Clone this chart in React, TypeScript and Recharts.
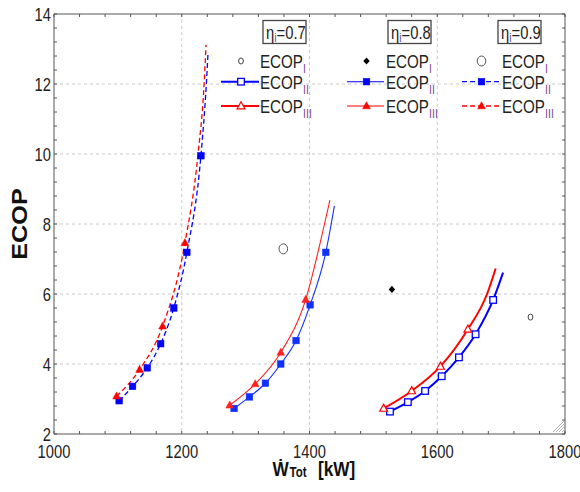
import { ComposedChart, Line, Scatter, XAxis, YAxis, CartesianGrid, Label } from 'recharts'

const FONT = "'Liberation Sans', Arial, sans-serif"
const NARROW = 0.82 // the reference uses a narrow face: squeeze Liberation Sans horizontally
const SUB = '#7d4a8c'

const xTicks = [1000, 1040, 1080, 1120, 1160, 1200, 1240, 1280, 1320, 1360, 1400, 1440, 1480, 1520, 1560, 1600, 1640, 1680, 1720, 1760, 1800]
const yTicks = [2, 2.4, 2.8, 3.2, 3.6, 4, 4.4, 4.8, 5.2, 5.6, 6, 6.4, 6.8, 7.2, 7.6, 8, 8.4, 8.8, 9.2, 9.6, 10, 10.4, 10.8, 11.2, 11.6, 12, 12.4, 12.8, 13.2, 13.6, 14]
const xLabels = [1000, 1200, 1400, 1600, 1800]
const yLabels = [2, 4, 6, 8, 10, 12, 14]
const xGrid = [1200, 1400, 1600]
const yGrid = [4, 6, 8, 10, 12]

const e09IIx = [1102, 1123, 1146, 1167, 1187.5, 1208, 1230, 1238.5, 1241]
const e09IIy = [2.95, 3.36, 3.89, 4.58, 5.6, 7.19, 9.95, 12.0, 12.84]
const e09IIn = 7
const e09IIIx = [1098, 1134, 1170, 1205, 1225.5, 1235, 1238]
const e09IIIy = [3.08, 3.84, 5.08, 7.46, 10.0, 12.0, 13.12]
const e09IIIn = 4

// eta_i = 0.8 : thin solid, filled markers
const e08IIx = [1282, 1306, 1331, 1355, 1379, 1401, 1425.5, 1434, 1439]
const e08IIy = [2.73, 3.06, 3.45, 4.0, 4.67, 5.69, 7.19, 8.0, 8.52]
const e08IIn = 7
const e08IIIx = [1275, 1315, 1355, 1394, 1423.5, 1432]
const e08IIIy = [2.82, 3.43, 4.33, 5.84, 8.0, 8.68]
const e08IIIn = 4

// eta_i = 0.7 : thick solid, open markers
const e07IIx = [1526, 1554, 1581, 1607, 1634, 1660, 1687.5, 1703]
const e07IIy = [2.64, 2.91, 3.23, 3.65, 4.19, 4.85, 5.83, 6.61]
const e07IIn = 7
const e07IIIx = [1516, 1560, 1605, 1648, 1678, 1691.5]
const e07IIIy = [2.73, 3.23, 3.93, 4.99, 6.0, 6.73]
const e07IIIn = 4

// ECOP_I single points (eta 0.7, 0.8, 0.9)
const ecopIx = [1746, 1529, 1359]
const ecopIy = [5.34, 6.13, 7.29]

const toPts = (xs: number[], ys: number[]) => xs.map((x, i) => ({ x, y: ys[i] }))

type Mark = 'sq' | 'tri'

function marker(kind: Mark, cx: number, cy: number, color: string, open: boolean, key: string) {
  const fill = open ? '#fff' : color
  if (kind === 'sq') {
    return <rect key={key} x={cx - 3.3} y={cy - 3.3} width={6.6} height={6.6} fill={fill} stroke={color} strokeWidth={open ? 1.3 : 0.5} />
  }
  return (
    <path
      key={key}
      d={`M${cx},${cy - 4.3} L${cx + 3.9},${cy + 2.8} L${cx - 3.9},${cy + 2.8} Z`}
      fill={fill}
      stroke={color}
      strokeWidth={open ? 1.2 : 0.5}
    />
  )
}

const makeDot = (kind: Mark, n: number, color: string, open: boolean, id: string) => (p: any) => {
  const k = `${id}-${p.index}`
  if (p.index >= n || p.cx == null) return <g key={k} />
  return marker(kind, p.cx, p.cy, color, open, k)
}

const series = [
  { id: '09II', x: e09IIx, y: e09IIy, n: e09IIn, color: '#0000ff', kind: 'sq' as Mark, open: false, w: 1.3, dash: '5 3' },
  { id: '09III', x: e09IIIx, y: e09IIIy, n: e09IIIn, color: '#ff0000', kind: 'tri' as Mark, open: false, w: 1.3, dash: '5 3' },
  { id: '08II', x: e08IIx, y: e08IIy, n: e08IIn, color: '#1030ff', kind: 'sq' as Mark, open: false, w: 1.1, dash: undefined },
  { id: '08III', x: e08IIIx, y: e08IIIy, n: e08IIIn, color: '#ff2020', kind: 'tri' as Mark, open: false, w: 1.1, dash: undefined },
  { id: '07II', x: e07IIx, y: e07IIy, n: e07IIn, color: '#0000ff', kind: 'sq' as Mark, open: true, w: 2, dash: undefined },
  { id: '07III', x: e07IIIx, y: e07IIIy, n: e07IIIn, color: '#ff0000', kind: 'tri' as Mark, open: true, w: 2, dash: undefined },
]

const ecopIShape = [
  (p: any) => <ellipse cx={p.cx} cy={p.cy} rx={2.4} ry={3} fill="#fff" stroke="#444" strokeWidth={1} />,
  (p: any) => <path d={`M${p.cx},${p.cy - 3.6} L${p.cx + 3.2},${p.cy} L${p.cx},${p.cy + 3.6} L${p.cx - 3.2},${p.cy} Z`} fill="#000" />,
  (p: any) => <ellipse cx={p.cx} cy={p.cy} rx={4.3} ry={5} fill="#fff" stroke="#555" strokeWidth={1} />,
]

// text scaled horizontally around its own anchor
function NText({ x, y, anchor, size, bold, fill, rotate, sx, children }: any) {
  const rot = rotate ? ` rotate(${rotate})` : ''
  return (
    <text
      transform={`translate(${x} ${y})${rot} scale(${sx ?? NARROW} 1)`}
      textAnchor={anchor || 'start'}
      fontFamily={FONT}
      fontSize={size}
      fontWeight={bold ? 'bold' : 'normal'}
      fill={fill || '#222'}
    >
      {children}
    </text>
  )
}

const XTick = (p: any) => {
  const v = p.payload.value
  if (!xLabels.includes(v)) return <g />
  return <NText x={p.x} y={p.y + 13} anchor="middle" size={18}>{String(v)}</NText>
}

const YTick = (p: any) => {
  const v = p.payload.value
  if (!yLabels.includes(v)) return <g />
  return <NText x={p.x} y={p.y + 6.5} anchor="end" size={18}>{String(v)}</NText>
}

const XTitle = (props: any) => {
  const vb = props.viewBox
  const cx = vb.x + vb.width / 2
  return (
    <NText x={cx - 37} y={476} size={21} bold fill="#111">
      Ẇ
      <tspan fontSize={14} dy={1} dx={1}>Tot</tspan>
      <tspan fontSize={21} dy={-1} dx={14}>[kW]</tspan>
    </NText>
  )
}

const YTitle = (props: any) => {
  const vb = props.viewBox
  return (
    <NText x={vb.x + 27} y={vb.y + vb.height / 2} rotate={-90} anchor="middle" size={22} sx={1.15} bold fill="#111">
      ECOP
    </NText>
  )
}

const legendCols = [
  { eta: '0.7', bx: 263, lx1: 221, lx2: 259, mx: 241, tx: 260, dash: undefined, open: true, w: 2, i: 0 },
  { eta: '0.8', bx: 388, lx1: 347, lx2: 384, mx: 366.5, tx: 386, dash: undefined, open: false, w: 1.1, i: 1 },
  { eta: '0.9', bx: 498, lx1: 462, lx2: 500, mx: 481.5, tx: 502, dash: '5 3', open: false, w: 1.3, i: 2 },
]

function LegendOverlay() {
  return (
    <svg width={580} height={492} style={{ position: 'absolute', left: 0, top: 0, pointerEvents: 'none' }}>
      {legendCols.map((c) => (
        <g key={c.eta}>
          <rect x={c.bx} y={20.5} width={43} height={23} fill="#fff" stroke="#444" strokeWidth={1.3} />
          <NText x={c.bx + 3} y={38.5} size={18}>
            η<tspan fontSize={13} dy={3} fill={SUB}>i</tspan>
            <tspan dy={-3}>={c.eta}</tspan>
          </NText>
          {ecopIShape[c.i]({ cx: c.mx, cy: 61 })}
          <NText x={c.tx} y={67.5} size={18.5}>
            ECOP<tspan fontSize={13} dy={5} fill={SUB}>I</tspan>
          </NText>
          <line x1={c.lx1} x2={c.lx2} y1={81.7} y2={81.7} stroke="#0000ff" strokeWidth={c.w} strokeDasharray={c.dash} />
          {marker('sq', c.mx, 81.7, '#0000ff', c.open, 'lsq')}
          <NText x={c.tx} y={89} size={18.5}>
            ECOP<tspan fontSize={13} dy={5} fill={SUB}>II</tspan>
          </NText>
          <line x1={c.lx1} x2={c.lx2} y1={106} y2={106} stroke="#ff0000" strokeWidth={c.w} strokeDasharray={c.dash} />
          {marker('tri', c.mx, 106, '#ff0000', c.open, 'ltri')}
          <NText x={c.tx} y={113} size={18.5}>
            ECOP<tspan fontSize={13} dy={5} fill={SUB}>III</tspan>
          </NText>
        </g>
      ))}
      {/* resize grip in the corner */}
      <g stroke="#999" strokeWidth={0.8}>
        <line x1={553} y1={432} x2={564} y2={421} />
        <line x1={556} y1={432} x2={564} y2={424} />
        <line x1={559} y1={432} x2={564} y2={427} />
        <line x1={562} y1={432} x2={564} y2={430} />
      </g>
    </svg>
  )
}

const axisStroke = '#555'

export default function App() {
  return (
    <div style={{ position: 'fixed', left: 0, top: 0, width: 580, height: 492, background: '#fff' }}>
      <ComposedChart width={580} height={492} margin={{ top: 13, right: 14, bottom: 0, left: 0 }}>
        <CartesianGrid
          xAxisId="b"
          yAxisId="l"
          stroke="#c8c8c8"
          strokeDasharray="3 3"
          horizontalValues={yGrid}
          verticalValues={xGrid}
        />
        <XAxis
          xAxisId="b"
          dataKey="x"
          type="number"
          domain={[1000, 1800]}
          ticks={xTicks}
          interval={0}
          allowDataOverflow
          height={58}
          tickSize={-3}
          tickMargin={14}
          stroke={axisStroke}
          tick={XTick}
        >
          <Label content={XTitle} />
        </XAxis>
        <XAxis
          xAxisId="t"
          orientation="top"
          dataKey="x"
          type="number"
          domain={[1000, 1800]}
          ticks={xTicks}
          interval={0}
          allowDataOverflow
          height={1}
          tickSize={-3}
          stroke={axisStroke}
          tickFormatter={() => ''}
        />
        <YAxis
          yAxisId="l"
          type="number"
          domain={[2, 14]}
          ticks={yTicks}
          interval={0}
          allowDataOverflow
          width={54}
          tickSize={-3}
          tickMargin={6}
          stroke={axisStroke}
          tick={YTick}
        >
          <Label content={YTitle} />
        </YAxis>
        <YAxis
          yAxisId="r"
          orientation="right"
          type="number"
          domain={[2, 14]}
          ticks={yTicks}
          interval={0}
          allowDataOverflow
          width={1}
          tickSize={-3}
          stroke={axisStroke}
          tickFormatter={() => ''}
        />
        {series.map((s) => (
          <Line
            key={s.id}
            xAxisId="b"
            yAxisId="l"
            data={toPts(s.x, s.y)}
            dataKey="y"
            type="monotone"
            stroke={s.color}
            strokeWidth={s.w}
            strokeDasharray={s.dash}
            dot={makeDot(s.kind, s.n, s.color, s.open, s.id)}
            activeDot={false}
            isAnimationActive={false}
          />
        ))}
        {ecopIx.map((x, i) => (
          <Scatter
            key={`ecopI-${i}`}
            xAxisId="b"
            yAxisId="l"
            data={[{ x, y: ecopIy[i] }]}
            dataKey="y"
            shape={ecopIShape[i]}
            isAnimationActive={false}
          />
        ))}
      </ComposedChart>
      <LegendOverlay />
    </div>
  )
}
